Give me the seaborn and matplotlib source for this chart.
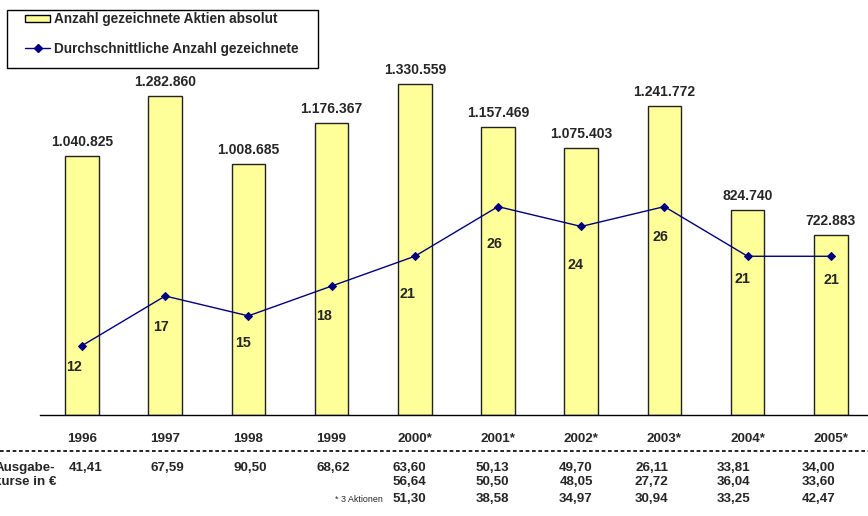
import numpy as np
import pandas as pd
import matplotlib
matplotlib.use("Agg")
import matplotlib.pyplot as plt
import seaborn as sns
from matplotlib.patches import Patch, Rectangle
from matplotlib.lines import Line2D

# ---------------- data ----------------
years = ["1996", "1997", "1998", "1999", "2000*", "2001*", "2002*", "2003*", "2004*", "2005*"]
shares_abs = [1040825, 1282860, 1008685, 1176367, 1330559, 1157469, 1075403, 1241772, 824740, 722883]
shares_avg = [12, 17, 15, 18, 21, 26, 24, 26, 21, 21]
price_row1 = [41.41, 67.59, 90.50, 68.62, 63.60, 50.13, 49.70, 26.11, 33.81, 34.00]
price_row2 = [None, None, None, None, 56.64, 50.50, 48.05, 27.72, 36.04, 33.60]
price_row3 = [None, None, None, None, 51.30, 38.58, 34.97, 30.94, 33.25, 42.47]
legend_labels = ["Anzahl gezeichnete Aktien absolut", "Durchschnittliche Anzahl gezeichnete"]
row_header = ["Ausgabe-", "kurse in €"]
footnote = "* 3 Aktionen"

# ---------------- style ----------------
sns.set_style("white")
plt.rcParams["font.family"] = ["Liberation Sans", "DejaVu Sans"]

W, H = 868, 516
fig = plt.figure(figsize=(W / 100, H / 100), dpi=100)
fig.patch.set_facecolor("white")

x_left = 40.4
x_right = 872.4
y_axis = 415
ax = fig.add_axes([x_left / W, (H - y_axis) / H, (x_right - x_left) / W, y_axis / H])
ax.set_facecolor("none")

df = pd.DataFrame({"Jahr": years, "Aktien": shares_abs, "Avg": shares_avg})

bar_color = "#FFFF99"
line_color = "#000080"

sns.barplot(data=df, x="Jahr", y="Aktien", color=bar_color, saturation=1,
            edgecolor="#222222", linewidth=1, width=0.404, ax=ax)
ax.set_xlim(-0.5, 9.5)
ax.set_ylim(0, y_axis / 248.6 * 1e6)
ax.set_xlabel("")
ax.set_ylabel("")
ax.set_yticks([])
for s in ["left", "right", "top"]:
    ax.spines[s].set_visible(False)
ax.spines["bottom"].set_color("black")
ax.spines["bottom"].set_linewidth(1)

ax.set_xticks(np.arange(-0.5, 10, 1), minor=True)
ax.tick_params(axis="x", which="minor", direction="inout", length=8, width=1, color="black")
ax.tick_params(axis="x", which="major", length=0, pad=13, labelsize=9.6)
for lbl in ax.get_xticklabels():
    lbl.set_fontweight("bold")

for i, v in enumerate(shares_abs):
    ax.annotate(f"{v:,}".replace(",", "."), (i, v), xytext=(0, 14), textcoords="offset pixels",
                ha="center", va="center", fontsize=10, fontweight="bold")

# secondary axis for average line
ax2 = ax.twinx()
sns.lineplot(x=np.arange(len(years)), y=shares_avg, ax=ax2, color=line_color, lw=1,
             marker="D", markersize=4, markeredgecolor=line_color)
ax2.set_ylim(5.02, 46.8)
ax2.set_yticks([])
ax2.set_xlim(-0.5, 9.5)
for s in ax2.spines.values():
    s.set_visible(False)

label_off = [(-8, 21.6), (-4.3, 31.4), (-5, 27.3), (-7.3, 29.7), (-7, 37.3),
             (-4, 37.6), (-5.7, 39), (-4.3, 30.6), (-5, 22.3), (1, 24)]
for i, v in enumerate(shares_avg):
    dx, dy = label_off[i]
    ax2.annotate(str(v), (i, v), xytext=(dx, -dy), textcoords="offset pixels",
                 ha="center", va="center", fontsize=10.3, fontweight="bold")

# dashed separator line
fig.add_artist(Line2D([0, 1], [(H - 451) / H] * 2, transform=fig.transFigure,
                      color="black", lw=1.2, linestyle=(0, (2.2, 1.6))))

# price table
col_off = [4, 2.5, 2.3, 2, -5.7, -5.6, -5.2, -12.6, -13.7, -12.4]
row_y = [H - 468, H - 482, H - 499]
for row, yy in zip([price_row1, price_row2, price_row3], row_y):
    for i, v in enumerate(row):
        if v is None:
            continue
        ax.annotate(f"{v:.2f}".replace(".", ","), (i, yy), xycoords=("data", "figure pixels"),
                    xytext=(col_off[i], 0), textcoords="offset pixels",
                    ha="center", va="center", fontsize=9.6, fontweight="bold",
                    annotation_clip=False)

fig.text(55 / W, (H - 468) / H, row_header[0], ha="right", va="center",
         fontsize=9.6, fontweight="bold")
fig.text(56 / W, (H - 482) / H, row_header[1], ha="right", va="center",
         fontsize=9.6, fontweight="bold")
fig.text(335 / W, (H - 500) / H, footnote, ha="left", va="center", fontsize=6.4)

# legend
fig.add_artist(Rectangle((7 / W, (H - 68) / H), (318 - 7) / W, (68 - 10) / H,
                         transform=fig.transFigure, facecolor="white",
                         edgecolor="black", lw=1, zorder=5))
handles = [Patch(facecolor=bar_color, edgecolor="black", lw=1),
           Line2D([], [], color=line_color, lw=1, marker="D", markersize=4)]
leg = fig.legend(handles, legend_labels, loc="upper left",
                 bbox_to_anchor=(25 / W, (H - 12.5) / H), frameon=False,
                 borderpad=0, borderaxespad=0, handlelength=1.84, handleheight=0.45,
                 handletextpad=0.3, labelspacing=1.12,
                 prop={"size": 9.8, "weight": "bold"})
leg.set_zorder(6)

fig.savefig("out.png", dpi=100)
